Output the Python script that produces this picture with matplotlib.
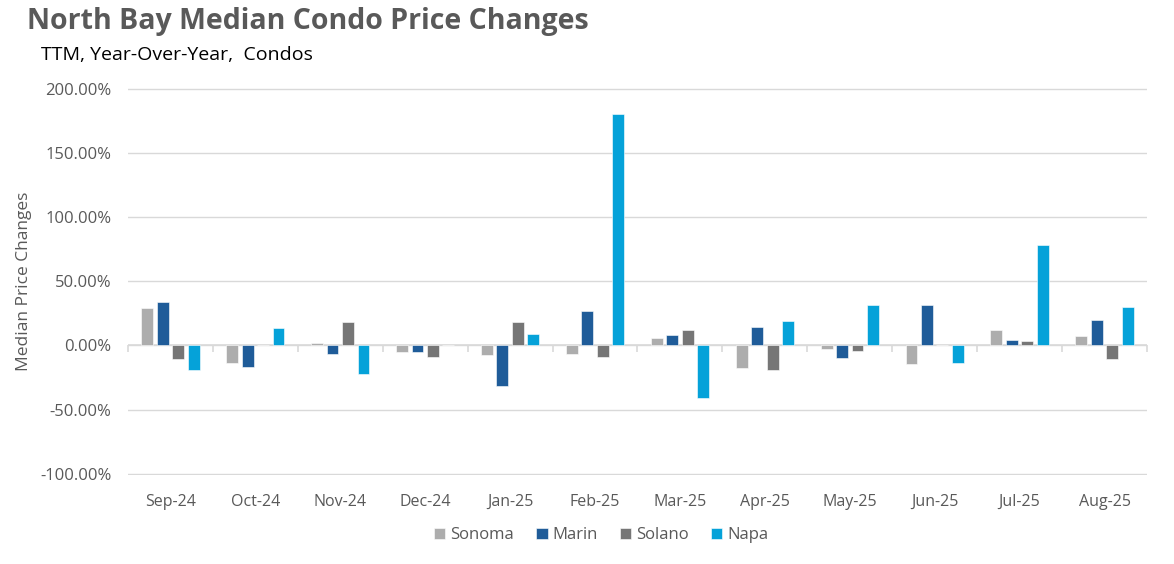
import numpy as np
import matplotlib
matplotlib.use("Agg")
import matplotlib.pyplot as plt
from matplotlib.ticker import FuncFormatter

plt.rcParams['font.family'] = ['Open Sans', 'DejaVu Sans']

months = ['Sep-24', 'Oct-24', 'Nov-24', 'Dec-24', 'Jan-25', 'Feb-25',
          'Mar-25', 'Apr-25', 'May-25', 'Jun-25', 'Jul-25', 'Aug-25']

sonoma = [29.3, -13.7, 1.8, -4.7, -7.8, -7.0, 5.7, -17.9, -2.6, -14.5, 12.2, 7.3]
marin = [33.7, -16.8, -6.5, -5.4, -31.9, 27.2, 8.3, 14.5, -9.8, 31.4, 4.0, 20.2]
solano = [-10.4, 0.0, 18.4, -9.1, 18.4, -8.6, 12.2, -18.9, -4.2, 0.0, 3.8, -10.9]
napa = [-19.5, 13.7, -22.6, 0.0, 9.3, 180.5, -41.0, 19.5, 31.4, -13.5, 78.6, 29.8]

series = [('Sonoma', sonoma, '#ADADAD'),
          ('Marin', marin, '#1F5C99'),
          ('Solano', solano, '#767676'),
          ('Napa', napa, '#05A2D9')]

fig = plt.figure(figsize=(11.74, 5.64), dpi=100)
ax = fig.add_axes([0.109, 0.158, 0.868, 0.686])

x = np.arange(len(months))
pitch = 0.182
width = 0.14
for i, (name, vals, col) in enumerate(series):
    ax.bar(x + (i - 1.5) * pitch, vals, width, color=col, label=name,
           edgecolor='white', linewidth=0.4, zorder=3)

ax.set_xlim(-0.5, len(months) - 0.5)
ax.set_ylim(-101, 201)
ax.set_yticks(np.arange(-100, 201, 50))
ax.yaxis.set_major_formatter(FuncFormatter(lambda v, p: f'{v:.2f}%'))
ax.grid(axis='y', color='#D9D9D9', linewidth=1, zorder=0)
ax.set_axisbelow(True)
for s in ax.spines.values():
    s.set_visible(False)
ax.tick_params(axis='y', length=0, labelsize=12, labelcolor='#595959', pad=12)
ax.set_xticks(x)
ax.set_xticklabels(months)
ax.tick_params(axis='x', length=0, labelsize=11.5, labelcolor='#595959', pad=14)

# category axis drawn at zero with boundary tick marks
ax.axhline(0, color='#D9D9D9', linewidth=1.2, zorder=2)
sec = ax.secondary_xaxis(0, transform=ax.transData)
sec.set_xticks(np.arange(-0.5, len(months), 1.0))
sec.set_xticklabels([])
sec.tick_params(length=5, color='#D9D9D9', width=1.2, direction='out')
sec.spines['bottom'].set_visible(False)

ax.set_ylabel('Median Price Changes', fontsize=12.5, color='#595959', labelpad=6)

fig.text(0.023, 0.962, 'North Bay Median Condo Price Changes', fontsize=20.5,
         fontweight='bold', color='#595959', va='center')
fig.text(0.035, 0.903, 'TTM, Year-Over-Year,  Condos', fontsize=14,
         color='black', va='center')

fig.legend(*ax.get_legend_handles_labels(), loc='center',
           bbox_to_anchor=(0.512, 0.051), ncol=4,
           frameon=False, fontsize=12, handlelength=0.7, handleheight=0.7,
           handletextpad=0.3, columnspacing=1.3, labelcolor='#595959')

fig.savefig('out.png', dpi=100)
